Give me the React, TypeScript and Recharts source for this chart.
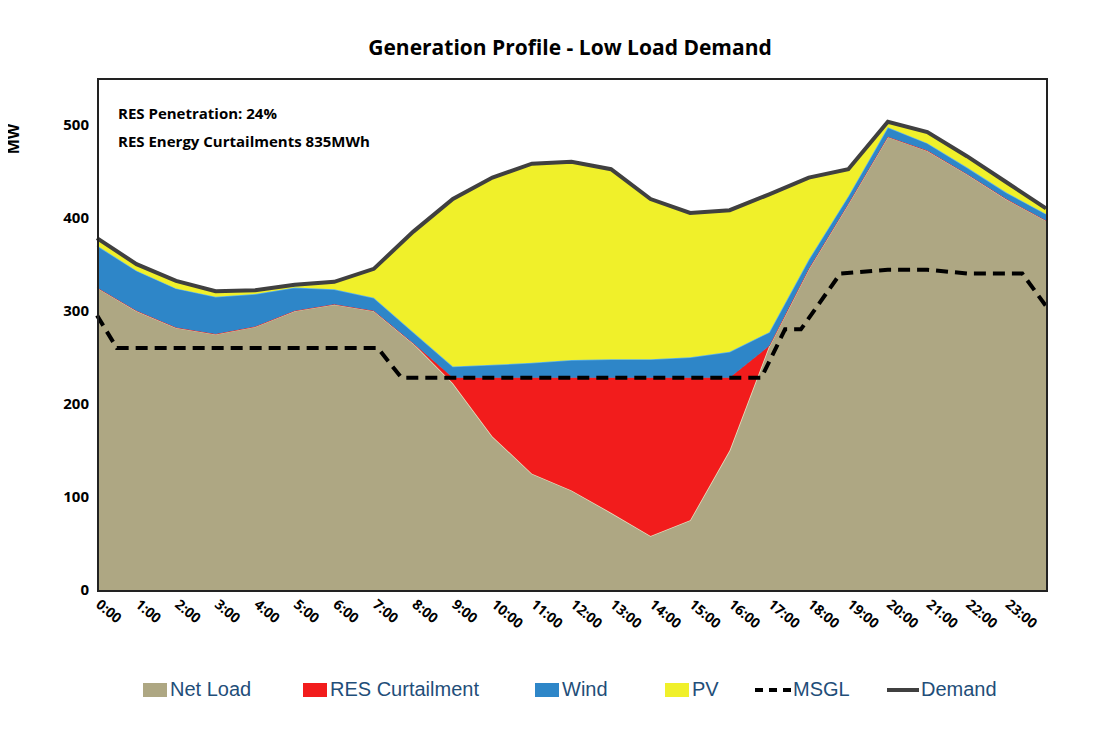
import React from 'react';
import { ComposedChart, Area, Line, XAxis, YAxis } from 'recharts';

const hours = [0, 1, 2, 3, 4, 5, 6, 7, 8, 9, 10, 11, 12, 13, 14, 15, 16, 17, 18, 19, 20, 21, 22, 23, 24];
const netLoad = [325, 300, 282, 275, 283, 300, 307, 300, 265, 222, 165, 125, 107, 83, 58, 75, 150, 262, 345, 415, 487, 472, 447, 420, 397];
const curtailment = [0, 0, 0, 0, 0, 0, 0, 0, 0, 6, 63, 103, 121, 145, 170, 153, 78, 0, 0, 0, 0, 0, 0, 0, 0];
const wind = [45, 43, 42, 40, 35, 25, 16, 14, 12, 12, 14, 16, 19, 20, 20, 22, 28, 15, 10, 8, 10, 8, 7, 7, 7];
const pv = [8, 7, 8, 6, 4, 3, 8, 31, 108, 180, 201, 214, 213, 204, 172, 155, 152, 148, 88, 29, 6, 12, 12, 11, 6];
const demand = [378, 350, 332, 321, 322, 328, 331, 345, 385, 420, 443, 458, 460, 452, 420, 405, 408, 425, 443, 452, 503, 492, 466, 438, 410];

const msglHours = [0, 0.5, 7.1, 7.7, 16.8, 17.4, 17.8, 18.8, 20, 21, 22, 23.4, 24];
const msglValues = [295, 260, 260, 228, 228, 280, 280, 340, 344, 344, 340, 340, 305];

const xTicks = [0, 1, 2, 3, 4, 5, 6, 7, 8, 9, 10, 11, 12, 13, 14, 15, 16, 17, 18, 19, 20, 21, 22, 23];
const yTicks = [0, 100, 200, 300, 400, 500];

const rows = hours.map((h, i) => ({
  h,
  netLoad: netLoad[i],
  curtailment: curtailment[i],
  wind: wind[i],
  pv: pv[i],
  demand: demand[i],
}));
const msglRows = msglHours.map((h, i) => ({ h, msgl: msglValues[i] }));

const FONT = '"Open Sans", "Liberation Sans", sans-serif';

const XTick = (props: any) => {
  const { x, y, payload } = props;
  return (
    <text
      x={x - 2}
      y={y + 8}
      transform={`rotate(40 ${x - 2} ${y + 8})`}
      textAnchor="start"
      fontSize={14}
      fontWeight={700}
      fill="#000"
      fontFamily={FONT}
    >
      {`${payload.value}:00`}
    </text>
  );
};

const legendItems = [
  { label: 'Net Load', kind: 'box', color: '#aea783', left: 143 },
  { label: 'RES Curtailment', kind: 'box', color: '#f21c1c', left: 303 },
  { label: 'Wind', kind: 'box', color: '#2e86c8', left: 535 },
  { label: 'PV', kind: 'box', color: '#f0f02a', left: 665 },
  { label: 'MSGL', kind: 'dash', color: '#000', left: 755 },
  { label: 'Demand', kind: 'line', color: '#404040', left: 887 },
];

export default function App() {
  return (
    <div style={{ position: 'relative', width: 1100, height: 738, margin: -8, background: '#fff', fontFamily: FONT }}>
      <div style={{ position: 'absolute', top: 33, left: 0, width: 1140, textAlign: 'center', fontSize: 21, fontWeight: 700 }}>
        Generation Profile - Low Load Demand
      </div>
      <div style={{ position: 'absolute', left: -2, top: 128, transform: 'rotate(-90deg)', fontSize: 16, fontWeight: 700 }}>MW</div>
      <ComposedChart width={1100} height={738} data={rows} margin={{ top: 78, right: 54, left: 37, bottom: 88 }}>
        <XAxis
          dataKey="h"
          type="number"
          domain={[0, 24]}
          ticks={xTicks}
          allowDuplicatedCategory={false}
          tick={<XTick />}
          tickLine={false}
          axisLine={false}
          height={60}
          interval={0}
        />
        <YAxis
          domain={[0, 550]}
          ticks={yTicks}
          tickLine={false}
          axisLine={false}
          width={60}
          tick={{ fill: '#000', fontSize: 15, fontWeight: 700, fontFamily: FONT }}
        />
        <Area type="linear" dataKey="netLoad" stackId="1" stroke="#e6dfc0" strokeWidth={1.5} fill="#aea783" fillOpacity={1} isAnimationActive={false} />
        <Area type="linear" dataKey="curtailment" stackId="1" stroke="#f21c1c" fill="#f21c1c" fillOpacity={1} isAnimationActive={false} />
        <Area type="linear" dataKey="wind" stackId="1" stroke="#5cb3ea" strokeWidth={1.5} fill="#2e86c8" fillOpacity={1} isAnimationActive={false} />
        <Area type="linear" dataKey="pv" stackId="1" stroke="#d8d820" fill="#f0f02a" fillOpacity={1} isAnimationActive={false} />
        <Line type="linear" dataKey="demand" stroke="#404040" strokeWidth={4} dot={false} isAnimationActive={false} />
        <Line type="linear" data={msglRows} dataKey="msgl" stroke="#000" strokeWidth={4} strokeDasharray="12 7" dot={false} isAnimationActive={false} />
      </ComposedChart>
      <div style={{ position: 'absolute', left: 97, top: 78, width: 947, height: 510, border: '2px solid #222', pointerEvents: 'none' }} />
      <div style={{ position: 'absolute', left: 118, top: 99, fontSize: 15, fontWeight: 700, lineHeight: '28px' }}>
        <div>RES Penetration: 24%</div>
        <div>RES Energy Curtailments 835MWh</div>
      </div>
      {legendItems.map((it) => (
        <div key={it.label} style={{ position: 'absolute', left: it.left, top: 678, display: 'flex', alignItems: 'center', fontSize: 20, color: '#1f4e79' }}>
          {it.kind === 'box' && <span style={{ display: 'inline-block', width: 24, height: 14, background: it.color, marginRight: 3 }} />}
          {it.kind === 'dash' && <span style={{ display: 'inline-block', width: 36, borderTop: `4px dashed ${it.color}`, marginRight: 2 }} />}
          {it.kind === 'line' && <span style={{ display: 'inline-block', width: 32, borderTop: `4px solid ${it.color}`, marginRight: 2 }} />}
          <span style={{ fontFamily: '"Liberation Sans", sans-serif' }}>{it.label}</span>
        </div>
      ))}
    </div>
  );
}
